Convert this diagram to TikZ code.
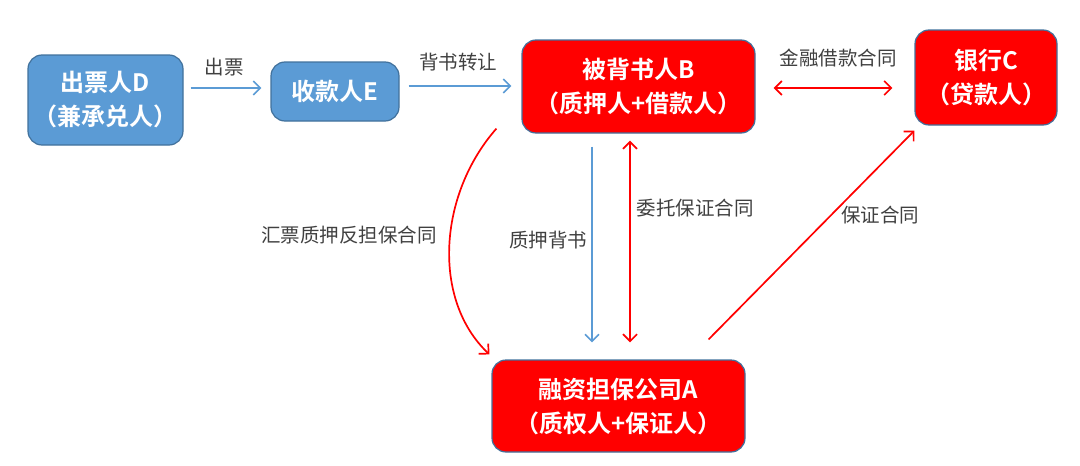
\documentclass[tikz,border=0pt]{standalone}
\usepackage{fontspec}
\setmainfont{Noto Sans CJK SC}
\newfontfamily\boxfont{Noto Sans CJK SC Bold}
\newfontfamily\lblfont{Noto Sans CJK SC}
\usetikzlibrary{arrows.meta}
\definecolor{bfill}{HTML}{5B9BD5}
\definecolor{bline}{HTML}{41719C}
\definecolor{lblgray}{HTML}{404040}
\tikzset{
  box/.style={draw=bline, line width=1.2pt, rounded corners=14pt, text=white,
    font=\boxfont\fontsize{24}{34}\selectfont, align=center, inner sep=0pt},
  bluebox/.style={box, fill=bfill},
  redbox/.style={box, fill=red},
  tip/.style={},
  barr/.style={draw=bfill, line width=1.6pt, -{Straight Barb[length=7pt,width=14pt,line width=1.6pt]}},
  rarr/.style={draw=red, line width=1.7pt, -{Straight Barb[length=7pt,width=14pt,line width=1.7pt]}},
  rdarr/.style={draw=red, line width=1.7pt, {Straight Barb[length=7pt,width=14pt,line width=1.7pt]}-{Straight Barb[length=7pt,width=14pt,line width=1.7pt]}},
  lbl/.style={text=lblgray, font=\lblfont\fontsize{19.5}{22}\selectfont, inner sep=0pt}
}
\begin{document}
\begin{tikzpicture}[x=1pt,y=-1pt]
\useasboundingbox (0,0) rectangle (1080,466);
\node[bluebox, minimum width=155pt, minimum height=90pt] (D) at (105.5,100) {出票人D\\（兼承兑人）};
\node[bluebox, minimum width=128pt, minimum height=59pt] (E) at (335,91.5) {收款人E};
\node[redbox, minimum width=233pt, minimum height=93pt] (B) at (638.5,86.5) {被背书人B\\（质押人+借款人）};
\node[redbox, minimum width=142pt, minimum height=95pt] (C) at (986,77.5) {银行C\\（贷款人）};
\node[redbox, minimum width=253pt, minimum height=92pt] (A) at (618.5,406) {融资担保公司A\\（质权人+保证人）};

\coordinate (dS) at ([xshift=7pt,yshift=12pt]D.east);
\coordinate (eE) at ([xshift=-9pt,yshift=3.5pt]E.west);
\draw[barr] (dS) -- (eE);
\node[lbl] (l1) at (224,67) {出票};

\coordinate (eS) at ([xshift=9pt,yshift=5.5pt]E.east);
\coordinate (bE) at ([xshift=-10pt,yshift=0.5pt]B.west);
\draw[barr] (eS) -- (bE);
\node[lbl] (l2) at (458,62) {背书转让};

\coordinate (bR) at ([xshift=18pt,yshift=-1.5pt]B.east);
\coordinate (cL) at ([xshift=-22pt,yshift=-10.5pt]C.west);
\draw[rdarr] (bR) -- (cL);
\node[lbl] (l3) at (838,58) {金融借款合同};

\coordinate (bD1) at ([xshift=-46.5pt,yshift=-13pt]B.south);
\coordinate (aU1) at ([xshift=-26.5pt,yshift=17pt]A.north);
\draw[barr] (bD1) -- (aU1);
\node[lbl] (l4) at (548,240) {质押背书};

\coordinate (bD2) at ([xshift=-8.5pt,yshift=-7pt]B.south);
\coordinate (aU2) at ([xshift=11.5pt,yshift=17pt]A.north);
\draw[rdarr] (aU2) -- (bD2);
\node[lbl] (l5) at (695,208) {委托保证合同};

\coordinate (aR) at ([xshift=-37pt,yshift=20pt]A.north east);
\coordinate (cB) at ([xshift=0pt,yshift=-5pt]C.south west);
\draw[rarr] (aR) -- (cB);
\node[lbl] (l6) at (880,215) {保证合同};

\coordinate (bC) at ([xshift=-25pt,yshift=5pt]B.south west);
\coordinate (aC) at ([xshift=-2pt,yshift=5pt]A.north west);
\draw[rarr] (bC) .. controls (438,195) and (432,300) .. (aC);
\node[lbl] (l7) at (349,235) {汇票质押反担保合同};
\end{tikzpicture}
\end{document}
